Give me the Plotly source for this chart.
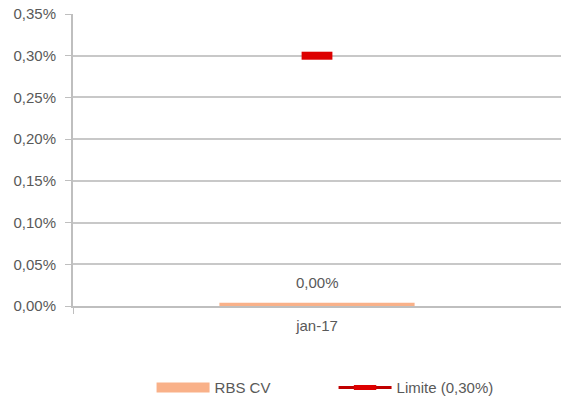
import plotly.graph_objects as go

categories = ["jan-17"]
rbs_cv = [0.00004]
limite = [0.003]
y_ticks = [0, 0.0005, 0.001, 0.0015, 0.002, 0.0025, 0.003, 0.0035]
y_tick_labels = ["0,00%", "0,05%", "0,10%", "0,15%", "0,20%", "0,25%", "0,30%", "0,35%"]

font = "Liberation Sans"
txt = "#595959"
bar_color = "#F9B189"

fig = go.Figure()
fig.add_trace(go.Bar(
    x=categories, y=rbs_cv, name="RBS CV", showlegend=False,
    marker=dict(color=bar_color, line=dict(width=0)),
))
# legend swatch for the bar series (wide rectangle)
fig.add_trace(go.Scatter(
    x=[None], y=[None], name="RBS CV", mode="lines",
    line=dict(color=bar_color, width=11),
))
fig.add_trace(go.Scatter(
    x=categories, y=limite, name="Limite (0,30%)",
    mode="lines+markers",
    line=dict(color="#C00000", width=3),
    marker=dict(symbol="line-ew", size=22,
                line=dict(width=8, color="#DD0000")),
))
for c, v in zip(categories, rbs_cv):
    fig.add_annotation(x=c, y=v, text=f"{v*100:.2f}%".replace(".", ","),
                       showarrow=False, yshift=20,
                       font=dict(family=font, size=15, color=txt))

fig.update_layout(
    width=561, height=402,
    margin=dict(l=73, r=0, t=14, b=96, autoexpand=False),
    paper_bgcolor="white", plot_bgcolor="white",
    bargap=0.6,
    font=dict(family=font, size=15, color=txt),
    showlegend=True,
    legend=dict(orientation="h", x=(154 - 73) / (561 - 73) - 0.005,
                xanchor="left", y=-0.28, yanchor="middle",
                font=dict(family=font, size=15, color=txt),
                itemwidth=53, entrywidth=114, traceorder="normal"),
    xaxis=dict(showline=True, linecolor="#BFBFBF", linewidth=2,
               ticks="outside", ticklen=6, tickcolor="#BFBFBF",
               tickson="boundaries", showgrid=False, automargin=False,
               ticklabelstandoff=5,
               tickfont=dict(family=font, size=15, color=txt)),
    yaxis=dict(range=[0, 0.0035], tickvals=y_ticks, ticktext=y_tick_labels,
               showline=True, linecolor="#BFBFBF", linewidth=2,
               ticks="outside", ticklen=6, tickcolor="#BFBFBF",
               showgrid=True, gridcolor="#C8C8C8", gridwidth=2,
               zeroline=False, automargin=False, ticklabelstandoff=6,
               tickfont=dict(family=font, size=15, color=txt)),
)
fig.write_html("out.html",
               config={"displayModeBar": False},
               post_script="document.body.style.margin='0';document.body.style.overflow='hidden';")
